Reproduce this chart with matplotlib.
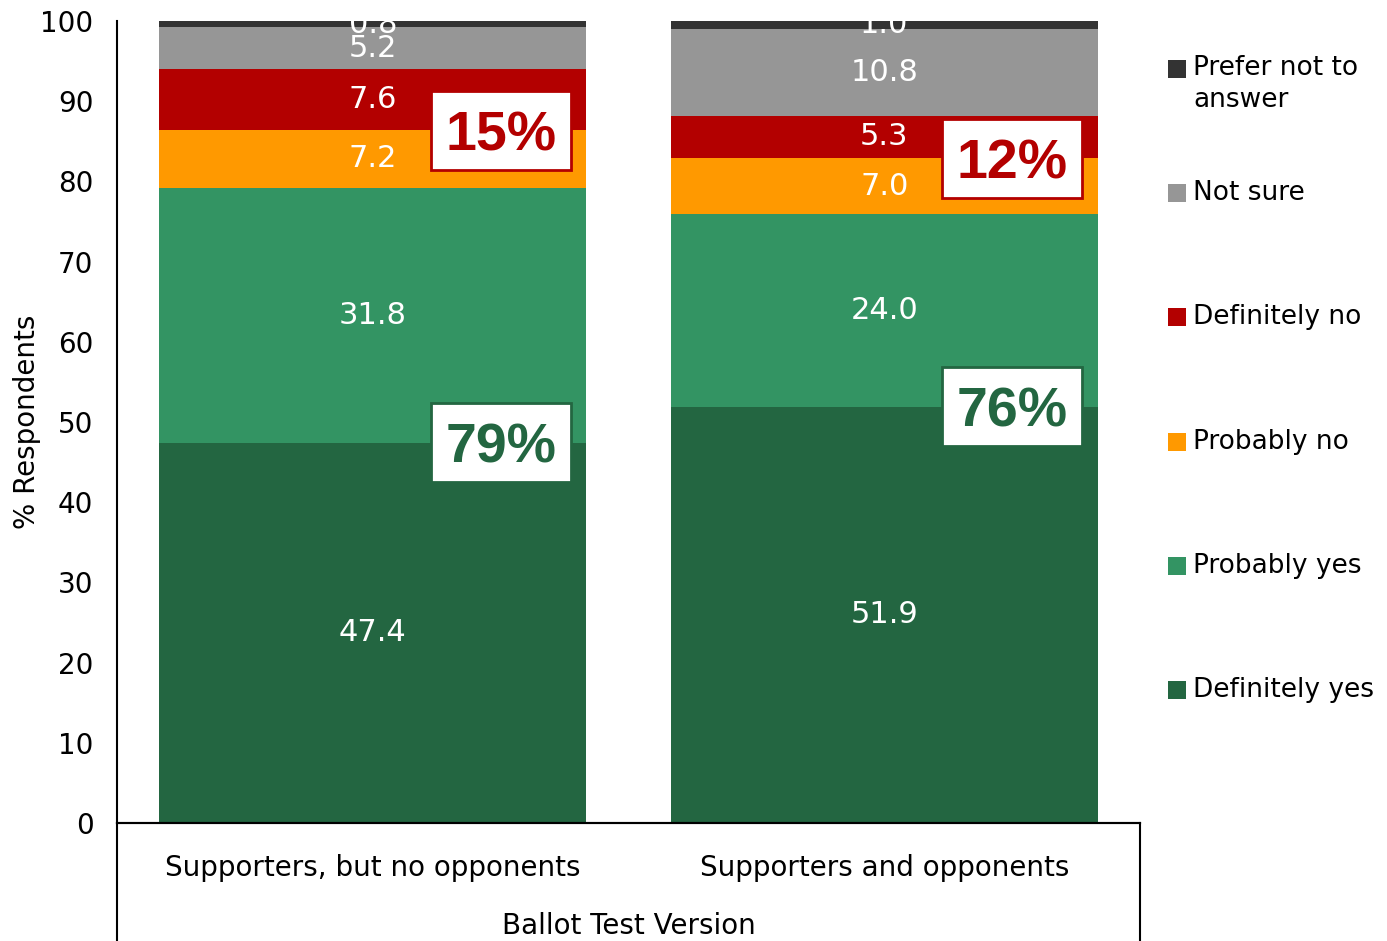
import matplotlib
matplotlib.use("Agg")
import matplotlib.pyplot as plt
from matplotlib.lines import Line2D
from matplotlib.patches import Rectangle
import numpy as np

# data
categories = ["Supporters, but no opponents", "Supporters and opponents"]
series = ["Definitely yes", "Probably yes", "Probably no",
          "Definitely no", "Not sure", "Prefer not to\nanswer"]
definitely_yes = [47.4, 51.9]
probably_yes = [31.8, 24.0]
probably_no = [7.2, 7.0]
definitely_no = [7.6, 5.3]
not_sure = [5.2, 10.8]
prefer_not = [0.8, 1.0]
yes_totals = ["79%", "76%"]
no_totals = ["15%", "12%"]

colors = ["#236641", "#339463", "#FF9900", "#B30000", "#969696", "#333333"]

values = [definitely_yes, probably_yes, probably_no, definitely_no, not_sure, prefer_not]

fig = plt.figure(figsize=(13.87, 9.41), dpi=100)
ax = fig.add_axes([0.0844, 0.1254, 0.7375, 0.8523])

x = np.arange(len(categories))
bottom = np.zeros(len(categories))
for vals, col in zip(values, colors):
    vals = np.array(vals)
    ax.bar(x, vals, width=0.835, bottom=bottom, color=col, linewidth=0)
    for xi, b, v in zip(x, bottom, vals):
        ax.text(xi, b + v / 2, f"{v:.1f}", ha="center", va="center",
                color="white", fontsize=22)
    bottom = bottom + vals

# summary boxes at the yes / no boundaries
box_w, box_h = 0.274, 9.85
yes_top = np.array(definitely_yes)
no_mid = np.array(definitely_yes) + np.array(probably_yes) + np.array(probably_no)
for labels, ys, col in [(yes_totals, yes_top, "#236641"), (no_totals, no_mid, "#B30000")]:
    for xi, lab, y in zip(x, labels, ys):
        cx = xi + 0.25
        ax.add_patch(Rectangle((cx - box_w / 2, y - box_h / 2), box_w, box_h,
                               fc="white", ec=col, lw=2, zorder=3))
        ax.text(cx, y, lab, ha="center", va="center_baseline", color=col,
                fontsize=40, fontweight="bold", family="Liberation Sans", zorder=4)

ax.set_xlim(-0.5, 1.5)
ax.set_ylim(0, 100)
ax.set_yticks(range(0, 101, 10))
ax.tick_params(axis="y", length=0, labelsize=20, pad=17)
ax.set_xticks(x)
ax.set_xticklabels(categories, fontsize=20)
ax.tick_params(axis="x", length=0, pad=22)
for s in ["top", "right"]:
    ax.spines[s].set_visible(False)
ax.spines["left"].set_linewidth(1.5)
ax.spines["bottom"].set_linewidth(1.5)
ax.set_ylabel("% Respondents", fontsize=20)
ax.yaxis.set_label_coords(-0.074, 0.5)
ax.text(0.5, -0.128, "Ballot Test Version", transform=ax.transAxes,
        ha="center", va="center", fontsize=20)

# multi-level category box lines
l, b = 0.0844, 0.1254
r = 0.0844 + 0.7375
fig.add_artist(Line2D([l, l], [0, b], transform=fig.transFigure, color="black", lw=1.5))
fig.add_artist(Line2D([r, r], [0, b], transform=fig.transFigure, color="black", lw=1.5))
fig.add_artist(Line2D([l, r], [b, b], transform=fig.transFigure, color="black", lw=1.5))

# legend, drawn by hand, top entry first
W, H = 1387, 941
y0, step = 69, 124.2
for i, (name, col) in enumerate(zip(series[::-1], colors[::-1])):
    yc = y0 + i * step
    fig.add_artist(Rectangle((1168 / W, 1 - (yc + 9) / H), 18 / W, 18 / H,
                             transform=fig.transFigure, color=col, lw=0))
    if "\n" in name:
        fig.text(1193 / W, 1 - (yc - 14) / H, name, ha="left", va="top",
                 fontsize=19, linespacing=1.3)
    else:
        fig.text(1193 / W, 1 - yc / H, name, ha="left", va="center", fontsize=19)

fig.savefig("out.png", dpi=100)
